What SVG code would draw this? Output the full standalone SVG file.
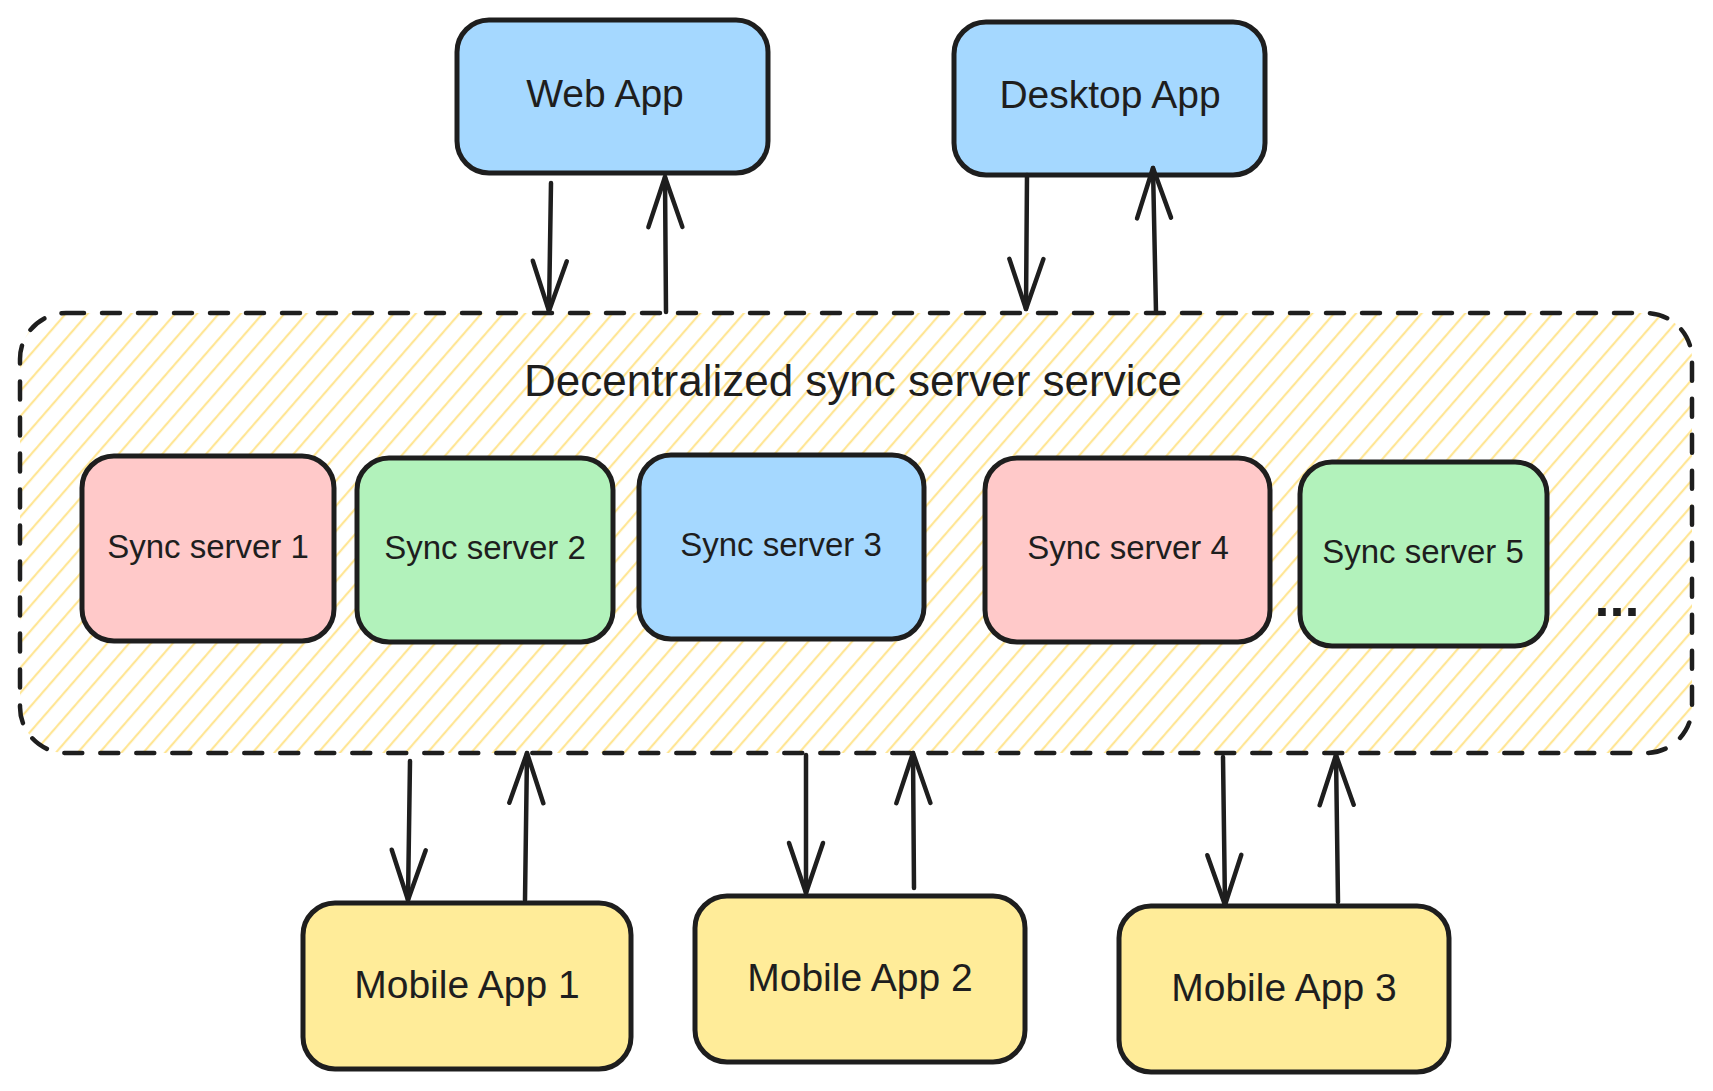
<svg xmlns="http://www.w3.org/2000/svg" width="1713" height="1091" viewBox="0 0 1713 1091">
  <style>
    .box { stroke: #1e1e1e; stroke-width: 5; }
    .blue { fill: #a5d8ff; }
    .pink { fill: #ffc9c9; }
    .green { fill: #b2f2bb; }
    .yellow { fill: #ffec99; }
    .lbl { font-family: "Liberation Sans", Arial, sans-serif; fill: #1e1e1e; text-anchor: middle; }
    .app { font-size: 39px; }
    .srv { font-size: 33px; }
    .title { font-size: 44px; }
    .conn { stroke: #1e1e1e; stroke-width: 4.5; fill: none; stroke-linecap: round; marker-end: url(#arr); }
  </style>
  <defs>
    <pattern id="hatch" patternUnits="userSpaceOnUse" width="16.5" height="16.5" patternTransform="rotate(41)">
      <line x1="8" y1="-2" x2="8" y2="19" stroke="#ffe38a" stroke-width="2"/>
    </pattern>
    <marker id="arr" markerUnits="userSpaceOnUse" viewBox="-54 -22 58 44" refX="0" refY="0" markerWidth="58" markerHeight="44" orient="auto">
      <path d="M-50,-17 L0,0 L-50,17" fill="none" stroke="#1e1e1e" stroke-width="4.5" stroke-linecap="round" stroke-linejoin="round"/>
    </marker>
  </defs>
  <rect width="1713" height="1091" fill="#ffffff"/>

  <g id="container">
    <rect x="20" y="313" width="1672" height="440" rx="46" fill="url(#hatch)" stroke="#1e1e1e" stroke-width="4.5" stroke-dasharray="18 18" stroke-linecap="round"/>
    <text class="lbl title" x="853" y="396">Decentralized sync server service</text>
    <text class="lbl" x="1617" y="616" font-size="54" font-weight="bold">...</text>
  </g>

  <g id="web-app">
    <rect class="box blue" x="457" y="20" width="311" height="153" rx="32"/>
    <text class="lbl app" x="605" y="107">Web App</text>
  </g>
  <g id="desktop-app">
    <rect class="box blue" x="954" y="22" width="311" height="153" rx="32"/>
    <text class="lbl app" x="1110" y="108">Desktop App</text>
  </g>

  <g id="sync-server-1">
    <rect class="box pink" x="82" y="456" width="252" height="185" rx="32"/>
    <text class="lbl srv" x="208" y="558">Sync server 1</text>
  </g>
  <g id="sync-server-2">
    <rect class="box green" x="357" y="458" width="256" height="184" rx="32"/>
    <text class="lbl srv" x="485" y="559">Sync server 2</text>
  </g>
  <g id="sync-server-3">
    <rect class="box blue" x="639" y="455" width="285" height="184" rx="32"/>
    <text class="lbl srv" x="781" y="556">Sync server 3</text>
  </g>
  <g id="sync-server-4">
    <rect class="box pink" x="985" y="458" width="285" height="184" rx="32"/>
    <text class="lbl srv" x="1128" y="559">Sync server 4</text>
  </g>
  <g id="sync-server-5">
    <rect class="box green" x="1300" y="462" width="247" height="184" rx="32"/>
    <text class="lbl srv" x="1423" y="563">Sync server 5</text>
  </g>

  <g id="mobile-app-1">
    <rect class="box yellow" x="303" y="903" width="328" height="166" rx="32"/>
    <text class="lbl app" x="467" y="998">Mobile App 1</text>
  </g>
  <g id="mobile-app-2">
    <rect class="box yellow" x="695" y="896" width="330" height="166" rx="32"/>
    <text class="lbl app" x="860" y="991">Mobile App 2</text>
  </g>
  <g id="mobile-app-3">
    <rect class="box yellow" x="1119" y="906" width="330" height="166" rx="32"/>
    <text class="lbl app" x="1284" y="1001">Mobile App 3</text>
  </g>

  <g id="connectors">
    <line class="conn" x1="551" y1="183" x2="549" y2="311"/>
    <line class="conn" x1="666" y1="312" x2="665" y2="177"/>
    <line class="conn" x1="1027" y1="175" x2="1026" y2="309"/>
    <line class="conn" x1="1156" y1="312" x2="1153" y2="168"/>
    <line class="conn" x1="410" y1="761" x2="408" y2="900"/>
    <line class="conn" x1="525" y1="900" x2="527" y2="753"/>
    <line class="conn" x1="806" y1="755" x2="806" y2="893"/>
    <line class="conn" x1="914" y1="888" x2="913" y2="753"/>
    <line class="conn" x1="1223" y1="757" x2="1225" y2="905"/>
    <line class="conn" x1="1338" y1="902" x2="1336" y2="755"/>
  </g>
</svg>
